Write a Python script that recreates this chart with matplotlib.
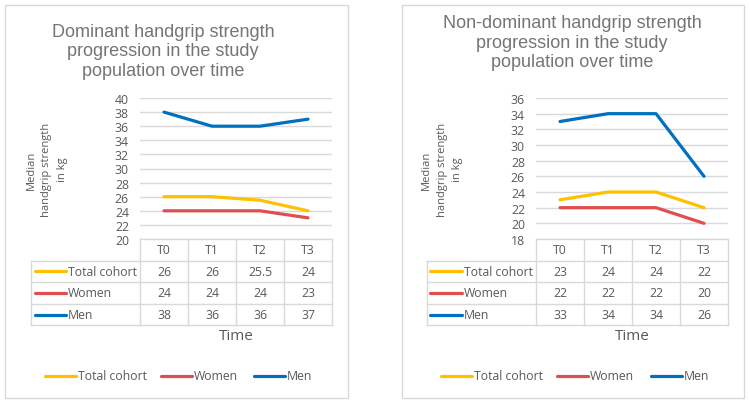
import matplotlib
matplotlib.use("Agg")
import matplotlib.pyplot as plt
from matplotlib.lines import Line2D
from matplotlib.patches import Rectangle

# ---------------- data ----------------
times = ["T0", "T1", "T2", "T3"]
series_names = ["Total cohort", "Women", "Men"]
dom_total = [26, 26, 25.5, 24]
dom_women = [24, 24, 24, 23]
dom_men = [38, 36, 36, 37]
nondom_total = [23, 24, 24, 22]
nondom_women = [22, 22, 22, 20]
nondom_men = [33, 34, 34, 26]
dom_yticks = list(range(20, 41, 2))
nondom_yticks = list(range(18, 37, 2))
title_dom = "Dominant handgrip strength\nprogression in the study\npopulation over time"
title_nondom = "Non-dominant handgrip strength\nprogression in the study\npopulation over time"
ylabel = "Median\nhandgrip strength\nin kg"
xlabel = "Time"

colors = ["#FFC000", "#E04F4F", "#0070C0"]
GRID = "#D9D9D9"
TXT = "#595959"
TITLE_C = "#757575"
FONT = "Open Sans"
TFONT = "Liberation Sans"

W, H = 750, 406
fig = plt.figure(figsize=(W / 100, H / 100), dpi=100)


def fx(x):
    return x / W


def fy(y):
    return 1 - y / H


def hline(x0, x1, y, **kw):
    fig.add_artist(Line2D([fx(x0), fx(x1)], [fy(y), fy(y)], transform=fig.transFigure, **kw))


def vline(x, y0, y1, **kw):
    fig.add_artist(Line2D([fx(x), fx(x)], [fy(y0), fy(y1)], transform=fig.transFigure, **kw))


def panel(box, title, tcx, tcy, plot_l, plot_r, plot_t, plot_b, ylim, yticks,
          ylab_x, ylab_y, leg_col_l, data, legend_pos, time_x):
    # outer border
    bx0, by0, bx1, by1 = box
    fig.add_artist(Rectangle((fx(bx0), fy(by1)), fx(bx1) - fx(bx0), fy(by0) - fy(by1),
                             transform=fig.transFigure, fill=False, edgecolor=GRID, lw=1.0))
    # title
    fig.text(fx(tcx), fy(tcy), title, ha="center", va="center", fontsize=13,
             color=TITLE_C, family=TFONT, linespacing=1.18)
    # plot axes
    ax = fig.add_axes([fx(plot_l), fy(plot_b), fx(plot_r) - fx(plot_l), fy(plot_t) - fy(plot_b)])
    ax.set_xlim(-0.5, len(times) - 0.5)
    ax.set_ylim(*ylim)
    ax.set_yticks(yticks)
    ax.set_yticklabels([str(v) for v in yticks], fontsize=8.8, color=TXT, family=FONT)
    ax.tick_params(axis="y", length=0, pad=8)
    ax.set_xticks([])
    for s in ax.spines.values():
        s.set_visible(False)
    ax.grid(axis="y", color=GRID, lw=1.0)
    ax.set_axisbelow(True)
    ax.patch.set_alpha(0)
    xs = list(range(len(times)))
    for vals, c in zip(data, colors):
        ax.plot(xs, vals, color=c, lw=2.3, solid_capstyle="round", clip_on=False)
    # y label
    fig.text(fx(ylab_x), fy(ylab_y), ylabel, rotation=90, ha="center", va="center",
             fontsize=8, color=TXT, family=FONT, linespacing=1.55)
    # table
    ncol = len(times)
    cw = (plot_r - plot_l) / ncol
    rh = 21.6
    top = plot_b
    rows_y = [top + rh * i for i in range(len(series_names) + 2)]
    hline(plot_l, plot_r, rows_y[0], color=GRID, lw=1.0)
    for yy in rows_y[1:]:
        hline(leg_col_l, plot_r, yy, color=GRID, lw=1.0)
    for k in range(ncol + 1):
        vline(plot_l + cw * k, rows_y[0], rows_y[-1], color=GRID, lw=1.0)
    vline(leg_col_l, rows_y[1], rows_y[-1], color=GRID, lw=1.0)
    for k, t in enumerate(times):
        fig.text(fx(plot_l + cw * (k + 0.5)), fy((rows_y[0] + rows_y[1]) / 2), t,
                 ha="center", va="center", fontsize=8.8, color=TXT, family=FONT)
    for i, (name, vals, c) in enumerate(zip(series_names, data, colors)):
        yc = (rows_y[i + 1] + rows_y[i + 2]) / 2
        hline(leg_col_l + 3.5, leg_col_l + 35, yc, color=c, lw=2.3, solid_capstyle="round")
        fig.text(fx(leg_col_l + 37), fy(yc), name, ha="left", va="center",
                 fontsize=8.8, color=TXT, family=FONT)
        for k, v in enumerate(vals):
            fig.text(fx(plot_l + cw * (k + 0.5)), fy(yc), f"{v:g}", ha="center",
                     va="center", fontsize=8.8, color=TXT, family=FONT)
    # x label
    fig.text(fx(time_x), fy(337), xlabel, ha="center", va="center", fontsize=11,
             color=TXT, family=FONT)
    # legend
    for (lx, name), c in zip(zip(legend_pos, series_names), colors):
        hline(lx, lx + 31, 377, color=c, lw=2.3, solid_capstyle="round")
        fig.text(fx(lx + 33), fy(377), name, ha="left", va="center", fontsize=8.8,
                 color=TXT, family=FONT)


panel((5, 6, 348, 399), title_dom, 163, 52, 140, 332, 99, 240, (20, 40), dom_yticks,
      47, 170, 31, [dom_total, dom_women, dom_men], [45, 161, 254], 236)
panel((402, 6, 744, 399), title_nondom, 572, 43, 536, 728, 99, 240, (18, 36), nondom_yticks,
      442, 170, 427, [nondom_total, nondom_women, nondom_men], [441, 557, 651], 632)

fig.savefig("out.png", dpi=100)
